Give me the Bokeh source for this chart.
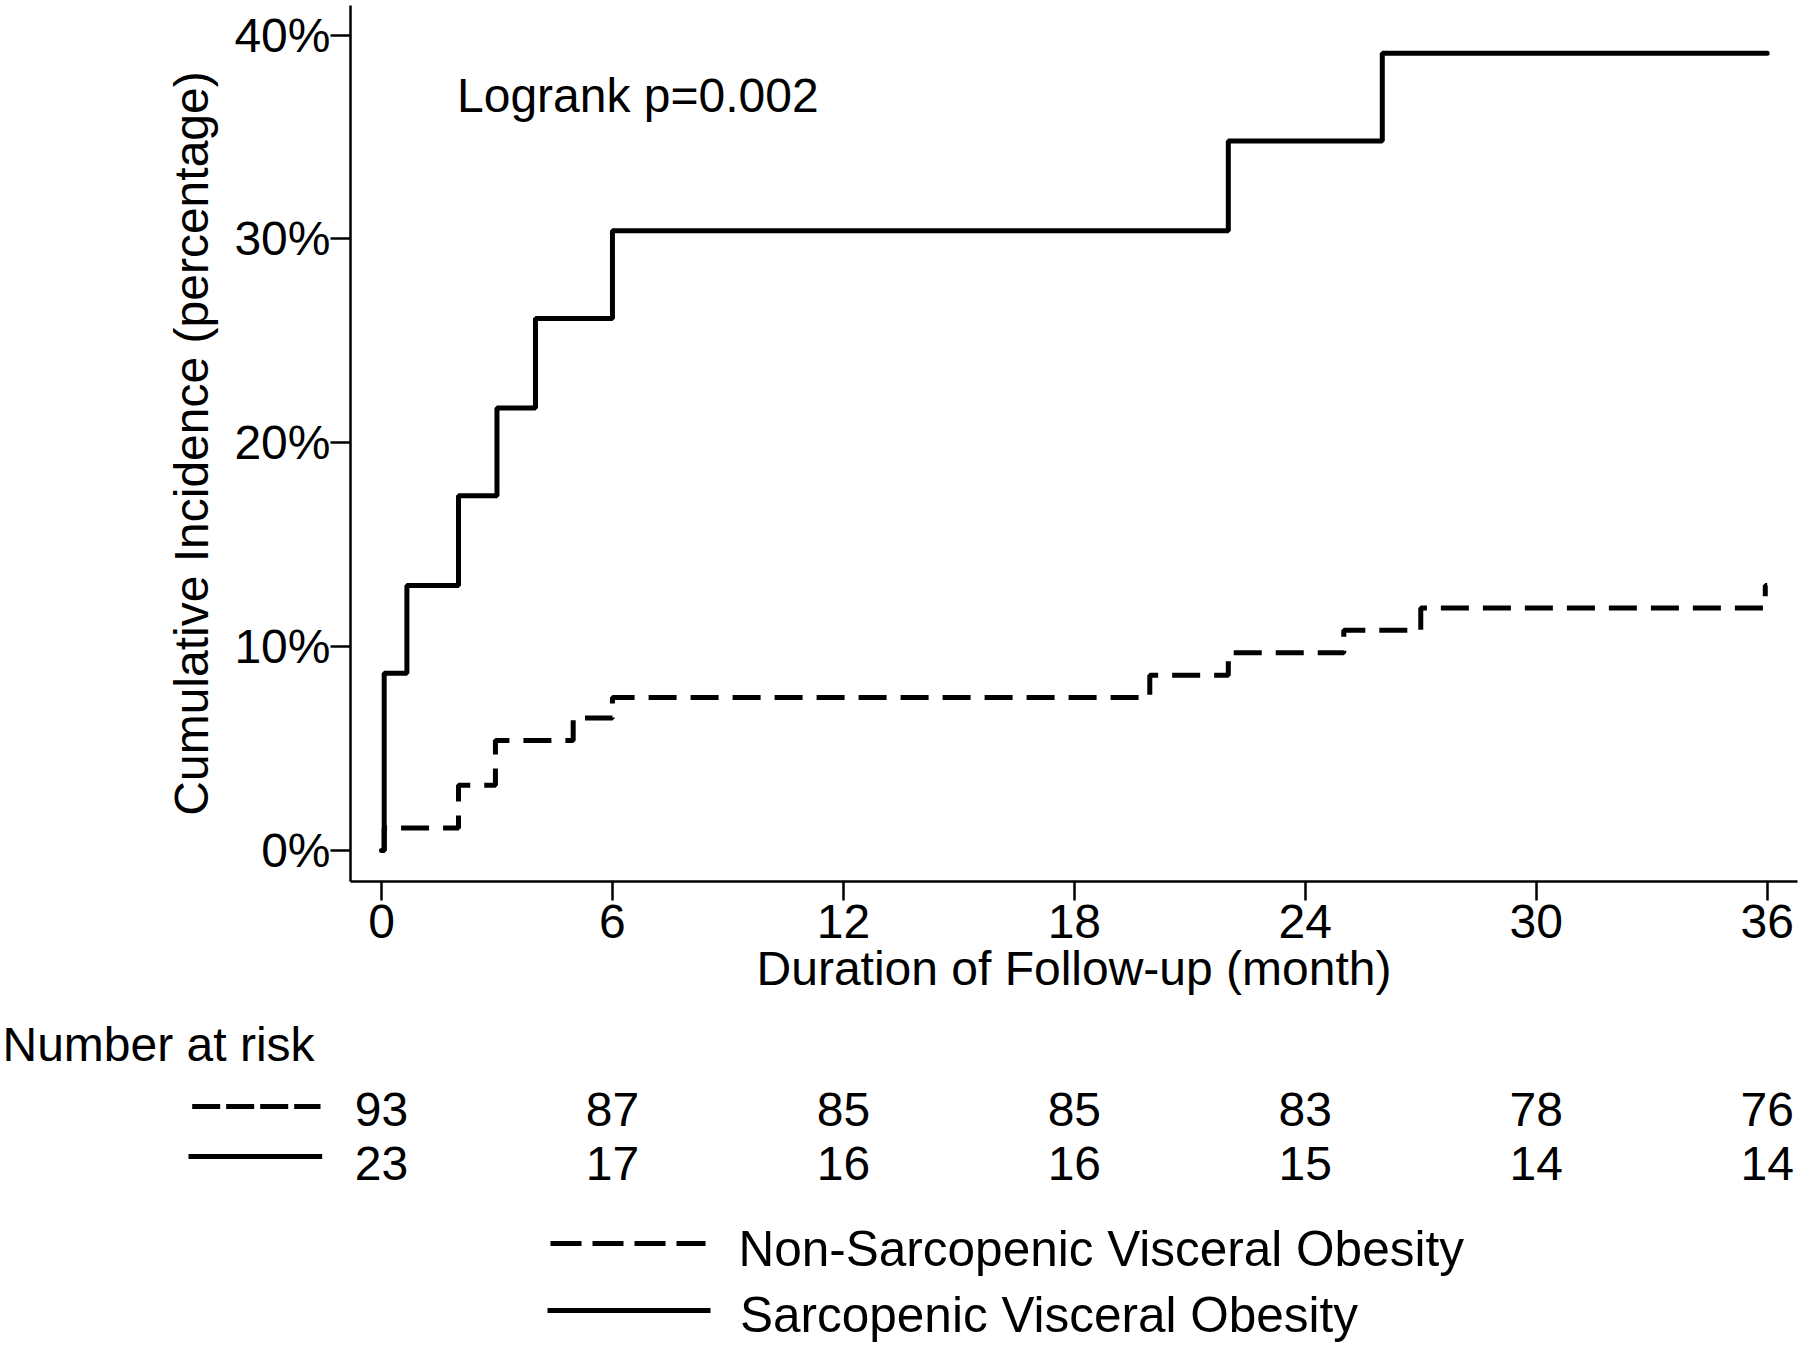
from bokeh.plotting import figure
from bokeh.models import Range1d, FixedTicker, PrintfTickFormatter, Label
from bokeh.core.properties import value
from bokeh.embed import file_html
from bokeh.resources import INLINE

# ---------------- data ----------------
sarc_time = [0.0, 0.07, 0.66, 2.0, 3.0, 4.0, 6.0, 22.0, 26.0, 36.0]
sarc_inc = [0.0, 8.7, 13.0, 17.4, 21.7, 26.1, 30.4, 34.8, 39.1, 39.1]

nonsarc_time = [0.0, 0.07, 2.0, 2.96, 4.98, 6.0, 19.96, 22.0, 25.0, 27.0, 35.95, 36.0]
nonsarc_inc = [0.0, 1.1, 3.2, 5.4, 6.5, 7.5, 8.6, 9.7, 10.8, 11.9, 13.0, 13.0]

risk_months = [0, 6, 12, 18, 24, 30, 36]
risk_nonsarc = [93, 87, 85, 85, 83, 78, 76]
risk_sarc = [23, 17, 16, 16, 15, 14, 14]

y_ticks = [0, 10, 20, 30, 40]
group_labels = ["Non-Sarcopenic Visceral Obesity", "Sarcopenic Visceral Obesity"]
logrank_text = "Logrank p=0.002"

# ---------------- layout (page pixels) ----------------
FONT = "Liberation Sans"
FS = "48px"
FS_LEG = "49.5px"
W = 1800
X0_PX, X36_PX = 381.0, 1766.7          # month 0 / month 36
PPM = (X36_PX - X0_PX) / 36.0           # px per month
Y0_PX, Y40_PX = 850.0, 34.5             # 0% / 40%
PPP = (Y0_PX - Y40_PX) / 40.0           # px per percent
FRAME_L, FRAME_R, FRAME_T, FRAME_B = 350, 1797, 5, 881
FIG_A_BOTTOM, FIG_B_BOTTOM = 1015, 1345


def px2m(px):
    return (px - X0_PX) / PPM


def py2p(py):
    return (Y0_PX - py) / PPP


# ---------------- main plot ----------------
p = figure(
    width=W, height=FIG_A_BOTTOM,
    x_range=Range1d(px2m(FRAME_L), px2m(FRAME_R)),
    y_range=Range1d(py2p(FRAME_B), py2p(FRAME_T)),
    min_border_left=FRAME_L, min_border_right=W - FRAME_R,
    min_border_top=FRAME_T, min_border_bottom=FIG_A_BOTTOM - FRAME_B,
    output_backend="svg", toolbar_location=None,
)
p.outline_line_color = None
p.xgrid.visible = False
p.ygrid.visible = False
p.background_fill_color = "white"
p.border_fill_color = "white"

for ax in (p.xaxis, p.yaxis):
    ax.axis_line_color = "black"
    ax.axis_line_width = 2.5
    ax.major_tick_line_color = "black"
    ax.major_tick_line_width = 2.5
    ax.major_tick_in = 0
    ax.minor_tick_line_color = None
    ax.major_label_text_font = FONT
    ax.major_label_text_font_size = FS
    ax.major_label_text_color = "black"
    ax.axis_label_text_font = FONT
    ax.axis_label_text_font_size = FS
    ax.axis_label_text_font_style = "normal"
    ax.axis_label_text_color = "black"

p.xaxis.ticker = FixedTicker(ticks=risk_months)
p.xaxis.major_tick_out = 19
p.xaxis.major_label_standoff = 4
p.xaxis.axis_label = "Duration of Follow-up (month)"
p.xaxis.axis_label_standoff = 1

p.yaxis.ticker = FixedTicker(ticks=y_ticks)
p.yaxis.formatter = PrintfTickFormatter(format="%d%%")
p.yaxis.major_tick_out = 20
p.yaxis.major_label_standoff = 0
p.yaxis.axis_label = "Cumulative Incidence (percentage)"
p.yaxis.axis_label_standoff = 13

p.step(x=nonsarc_time, y=nonsarc_inc, mode="after", line_color="black",
       line_width=5, line_dash="28 14")
p.step(x=sarc_time, y=sarc_inc, mode="after", line_color="black",
       line_width=5, line_cap="round")

p.add_layout(Label(x=px2m(456.5), y=py2p(95), text=logrank_text,
                   text_font=FONT, text_font_size=FS, text_color="black",
                   text_baseline="middle", text_align="left"))

# ---------------- number at risk + legend ----------------
q = figure(
    width=W, height=FIG_B_BOTTOM - FIG_A_BOTTOM,
    x_range=Range1d(px2m(0), px2m(W)),
    y_range=Range1d(FIG_B_BOTTOM, FIG_A_BOTTOM),
    min_border=0, min_border_left=0, min_border_right=0,
    min_border_top=0, min_border_bottom=0,
    x_axis_location=None, y_axis_location=None,
    output_backend="svg", toolbar_location=None,
)
q.outline_line_color = None
q.xgrid.visible = False
q.ygrid.visible = False

txt = dict(text_font=value(FONT), text_color="black", text_baseline="middle")

q.text(x=[px2m(2)], y=[1044], text=["Number at risk"], text_align="left",
       text_font_size=FS, **txt)

ROW_NS, ROW_S = 1109, 1162.5
q.text(x=risk_months, y=[ROW_NS] * len(risk_months),
       text=[str(v) for v in risk_nonsarc], text_align="center",
       text_font_size=FS, **txt)
q.text(x=risk_months, y=[ROW_S] * len(risk_sarc),
       text=[str(v) for v in risk_sarc], text_align="center",
       text_font_size=FS, **txt)

q.line(x=[px2m(191.7), px2m(320)], y=[1106, 1106], line_color="black",
       line_width=5, line_dash="28 6")
q.line(x=[px2m(188), px2m(321.7)], y=[1156, 1156], line_color="black",
       line_width=5)

q.line(x=[px2m(550), px2m(705)], y=[1243, 1243], line_color="black",
       line_width=5, line_dash="31 11")
q.line(x=[px2m(547), px2m(710)], y=[1310, 1310], line_color="black",
       line_width=5)
q.text(x=[px2m(738), px2m(739.5)], y=[1247.5, 1314], text=group_labels,
       text_align="left", text_font_size=FS_LEG, **txt)

with open("out.html", "w") as f:
    f.write(file_html([p, q], INLINE))
